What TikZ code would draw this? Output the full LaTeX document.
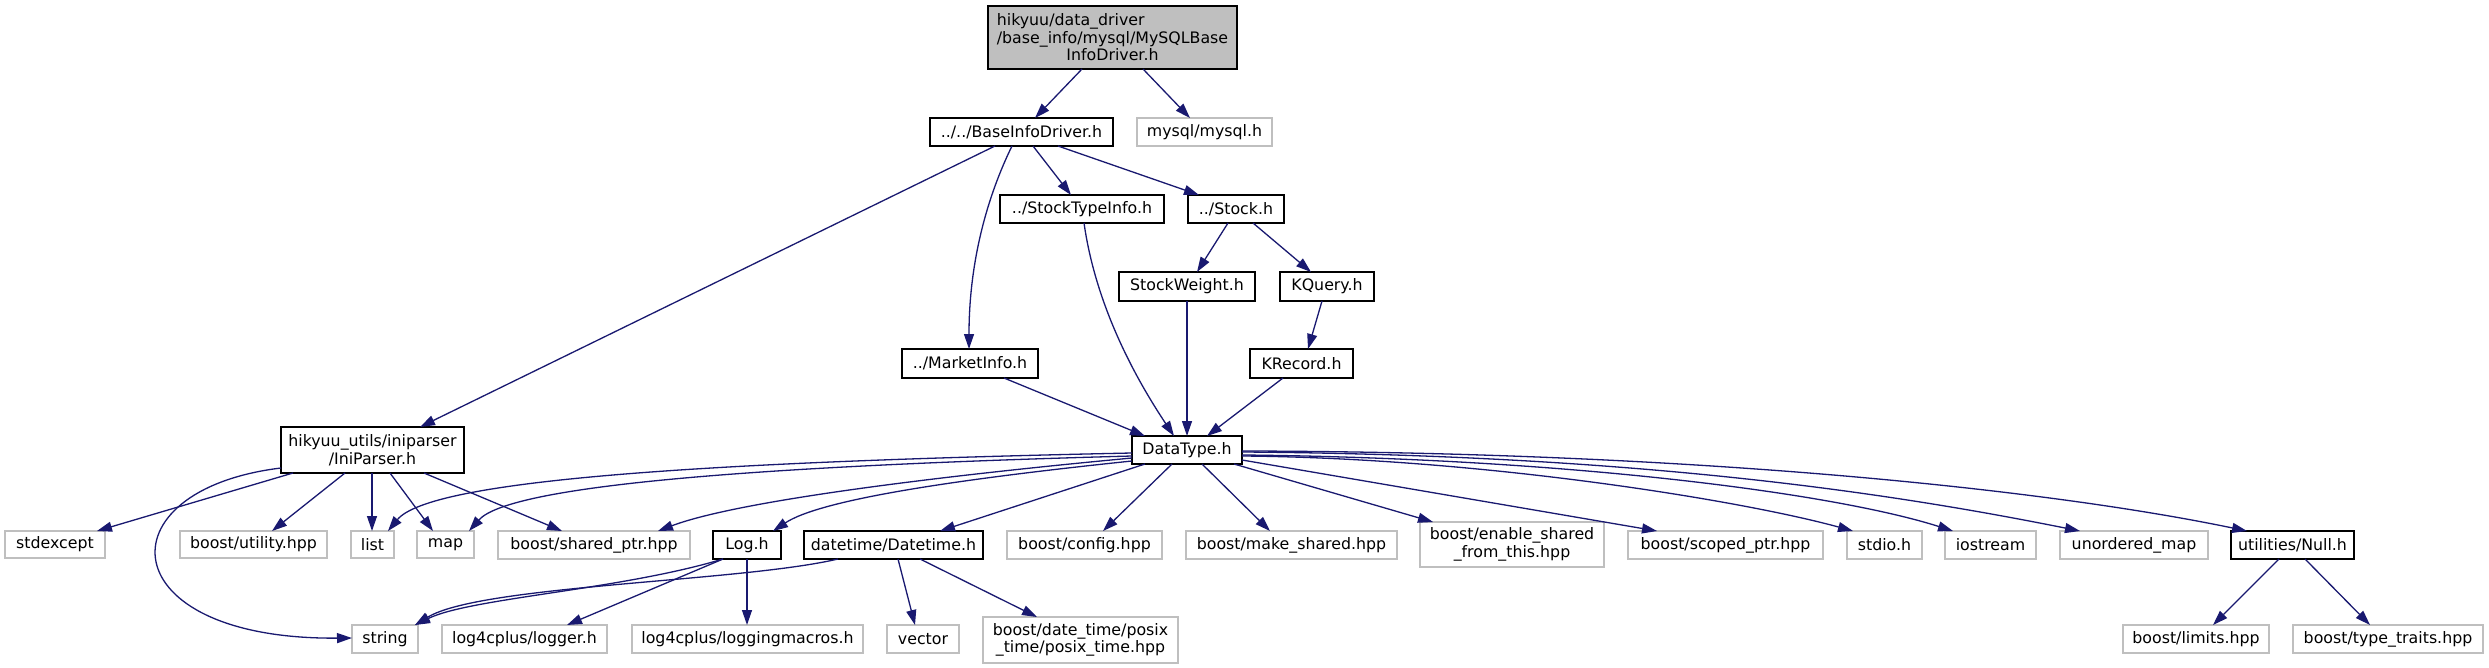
\documentclass[tikz,border=0pt]{standalone}
\usepackage{fontspec}
\setmainfont{DejaVu Sans}
\usetikzlibrary{arrows.meta}
\definecolor{edgec}{HTML}{191970}
\definecolor{greyb}{HTML}{BFBFBF}
\newcommand{\gnode}[7]{\node[#1, minimum width={(#5)-(#3)}, minimum height={(#6)-(#4)}] (#2) at ({((#3)+(#5))/2},{((#4)+(#6))/2}) {#7};}
\tikzset{
  anybox/.style={rectangle, inner sep=0pt, outer sep=0pt, text=black, align=center,
    font=\fontsize{15.8}{17.5}\selectfont},
  gbox/.style={anybox, draw=greyb, line width=1.4pt},
  bbox/.style={anybox, draw=black, line width=1.4pt},
  rootbox/.style={anybox, draw=black, fill=greyb, line width=1.4pt},
  edge/.style={draw=edgec, line width=1.3pt, -{Triangle[length=15pt,width=10pt]}}
}
\begin{document}
\begin{tikzpicture}[x=1pt,y=-1pt]
\fill[white] (0,0) rectangle (2489,668);
\useasboundingbox (0,0) rectangle (2489,668);
% nodes
\gnode{rootbox}{root}{988}{6}{1237}{69}{\rlap{hikyuu/data\_driver}\phantom{/base\_info/mysql/MySQLBase}\\/base\_info/mysql/MySQLBase\\InfoDriver.h}
\gnode{bbox}{bidrv}{930}{118}{1113}{146}{../../BaseInfoDriver.h}
\gnode{gbox}{mysql}{1137}{118}{1272}{146}{mysql/mysql.h}
\gnode{bbox}{sti}{1000}{195}{1164}{223}{../StockTypeInfo.h}
\gnode{bbox}{stock}{1188}{195}{1284}{223}{../Stock.h}
\gnode{bbox}{sw}{1119}{272}{1255}{301}{StockWeight.h}
\gnode{bbox}{kq}{1280}{272}{1374}{301}{KQuery.h}
\gnode{bbox}{mi}{902}{349}{1038}{378}{../MarketInfo.h}
\gnode{bbox}{kr}{1250}{349}{1353}{378}{KRecord.h}
\gnode{bbox}{dt}{1132}{436}{1242}{464}{DataType.h}
\gnode{bbox}{ini}{281}{427}{464}{473}{hikyuu\_utils/iniparser\\/IniParser.h}
\gnode{gbox}{stdexcept}{5}{531}{105}{558}{stdexcept}
\gnode{gbox}{utility}{180}{531}{327}{558}{boost/utility.hpp}
\gnode{gbox}{list}{351}{531}{394}{558}{list}
\gnode{gbox}{map}{417}{531}{474}{558}{map}
\gnode{gbox}{sptr}{498}{531}{690}{559}{boost/shared\_ptr.hpp}
\gnode{bbox}{logh}{713}{531}{781}{559}{Log.h}
\gnode{bbox}{dtm}{804}{531}{983}{559}{datetime/Datetime.h}
\gnode{gbox}{config}{1007}{531}{1162}{559}{boost/config.hpp}
\gnode{gbox}{mkshared}{1186}{531}{1397}{559}{boost/make\_shared.hpp}
\gnode{gbox}{enshared}{1420}{522}{1604}{567}{boost/enable\_shared\\\_from\_this.hpp}
\gnode{gbox}{scoped}{1628}{531}{1823}{559}{boost/scoped\_ptr.hpp}
\gnode{gbox}{stdio}{1847}{531}{1922}{559}{stdio.h}
\gnode{gbox}{iostream}{1945}{531}{2036}{559}{iostream}
\gnode{gbox}{umap}{2060}{531}{2208}{559}{unordered\_map}
\gnode{bbox}{nullh}{2231}{531}{2354}{559}{utilities/Null.h}
\gnode{gbox}{string}{352}{625}{418}{653}{string}
\gnode{gbox}{logger}{442}{625}{607}{653}{log4cplus/logger.h}
\gnode{gbox}{lmacros}{632}{625}{863}{653}{log4cplus/loggingmacros.h}
\gnode{gbox}{vector}{887}{625}{959}{653}{vector}
\gnode{gbox}{posix}{983}{617}{1178}{663}{boost/date\_time/posix\\\_time/posix\_time.hpp}
\gnode{gbox}{limits}{2123}{625}{2269}{653}{boost/limits.hpp}
\gnode{gbox}{traits}{2293}{625}{2483}{653}{boost/type\_traits.hpp}
% edges
\draw[edge] ([xshift=94pt]root.south west) -- ([xshift=105pt]bidrv.north west);
\draw[edge] ([xshift=155pt]root.south west) -- ([xshift=53pt]mysql.north west);
\draw[edge] ([xshift=65pt]bidrv.south west) -- ([xshift=139pt]ini.north west);
\draw[edge] ([xshift=82pt]bidrv.south west) .. controls (988,195) and (969,260) .. ([xshift=67pt]mi.north west);
\draw[edge] ([xshift=103pt]bidrv.south west) -- ([xshift=71pt]sti.north west);
\draw[edge] ([xshift=128pt]bidrv.south west) -- ([xshift=11pt]stock.north west);
\draw[edge] ([xshift=40pt]stock.south west) -- ([xshift=78pt]sw.north west);
\draw[edge] ([xshift=65pt]stock.south west) -- ([xshift=31pt]kq.north west);
\draw[edge] ([xshift=42pt]kq.south west) -- ([xshift=58pt]kr.north west);
\draw[edge] ([xshift=84pt]sti.south west) .. controls (1095,300) and (1130,370) .. ([xshift=42pt]dt.north west);
\draw[edge] ([xshift=68pt]sw.south west) -- ([xshift=55pt]dt.north west);
\draw[edge] ([xshift=33pt]kr.south west) -- ([xshift=75pt]dt.north west);
\draw[edge] ([xshift=102pt]mi.south west) -- ([xshift=13pt]dt.north west);
% IniParser
\draw[edge] ([xshift=12pt]ini.south west) -- ([xshift=92pt]stdexcept.north west);
\draw[edge] ([xshift=64pt]ini.south west) -- ([xshift=92pt]utility.north west);
\draw[edge] ([xshift=91pt]ini.south west) -- ([xshift=21pt]list.north west);
\draw[edge] ([xshift=109pt]ini.south west) -- ([xshift=16pt]map.north west);
\draw[edge] ([xshift=143pt]ini.south west) -- ([xshift=64pt]sptr.north west);
\draw[edge] ([yshift=5pt]ini.south west) .. controls (100,490) and (110,640) .. ([yshift=1pt]string.west);
% DataType left
\draw[edge] ([yshift=-17pt]dt.north west) .. controls (700,462) and (430,480) .. ([xshift=37pt]list.north west);
\draw[edge] ([yshift=-20pt]dt.north west) .. controls (760,466) and (510,485) .. ([xshift=52pt]map.north west);
\draw[edge] ([yshift=-22pt]dt.north west) .. controls (950,475) and (740,500) .. ([xshift=160pt]sptr.north west);
\draw[edge] ([yshift=-25pt]dt.north west) .. controls (950,480) and (820,500) .. ([xshift=60pt]logh.north west);
% DataType down
\draw[edge] ([xshift=13pt]dt.south west) -- ([xshift=136pt]dtm.north west);
\draw[edge] ([xshift=40pt]dt.south west) -- ([xshift=96pt]config.north west);
\draw[edge] ([xshift=70pt]dt.south west) -- ([xshift=84pt]mkshared.north west);
\draw[edge] ([xshift=102pt]dt.south west) -- ([xshift=13pt]enshared.north west);
% DataType right
\draw[edge] ([yshift=4pt]dt.south east) -- ([xshift=29pt]scoped.north west);
\draw[edge] ([yshift=8pt]dt.south east) .. controls (1480,458) and (1740,500) .. ([xshift=6pt]stdio.north west);
\draw[edge] ([yshift=9pt]dt.south east) .. controls (1560,458) and (1830,492) .. ([xshift=8pt]iostream.north west);
\draw[edge] ([yshift=12pt]dt.south east) .. controls (1650,455) and (1900,495) .. ([xshift=20pt]umap.north west);
\draw[edge] ([yshift=13pt]dt.south east) .. controls (1700,452) and (2050,490) .. ([xshift=16pt]nullh.north west);
% Log.h, Datetime
\draw[edge] ([xshift=10pt]logh.south west) .. controls (620,590) and (470,598) .. ([xshift=63pt]string.north west);
\draw[edge] ([xshift=34pt]dtm.south west) .. controls (740,582) and (480,585) .. ([xshift=63pt]string.north west);
\draw[edge] ([xshift=10pt]logh.south west) -- ([xshift=125pt]logger.north west);
\draw[edge] ([xshift=34pt]logh.south west) -- ([xshift=115pt]lmacros.north west);
\draw[edge] ([xshift=94pt]dtm.south west) -- ([xshift=28pt]vector.north west);
\draw[edge] ([xshift=116pt]dtm.south west) -- ([xshift=54pt]posix.north west);
% Null.h
\draw[edge] ([xshift=48pt]nullh.south west) -- ([xshift=90pt]limits.north west);
\draw[edge] ([xshift=74pt]nullh.south west) -- ([xshift=77pt]traits.north west);
\end{tikzpicture}
\end{document}
